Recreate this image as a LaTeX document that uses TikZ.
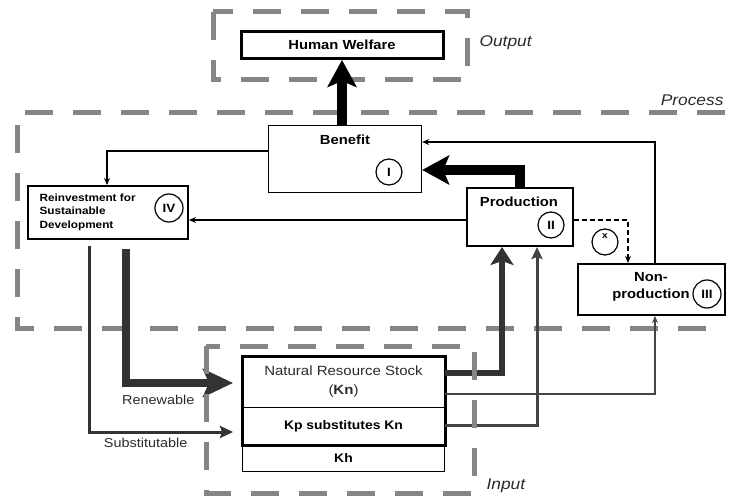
\documentclass[tikz,border=0pt]{standalone}
\usepackage{fontspec}
\setmainfont{Liberation Sans}[FakeStretch=1.12]
\usetikzlibrary{arrows.meta}
\definecolor{dashgray}{HTML}{858585}
\definecolor{darkline}{HTML}{333333}
\definecolor{midline}{HTML}{444444}
\definecolor{txtgray}{HTML}{2A2A2A}
\newcommand{\headfont}{\fontsize{13.2}{15}\selectfont\bfseries}
\newcommand{\grpfont}{\fontsize{15.5}{17}\selectfont\itshape}
\begin{document}
\begin{tikzpicture}[x=1pt,y=-1pt,
  grp/.style={draw=dashgray, line width=5pt, dash pattern=on 28pt off 20pt},
  boxnode/.style={draw=black, inner sep=0pt},
  circ/.style={circle, draw=black, line width=1.2pt, minimum size=26pt, inner sep=0pt, font=\fontsize{12}{13}\selectfont\bfseries},
  bigblack/.style={draw=black, line width=10pt, line join=miter, -{Stealth[length=27pt,width=29pt,inset=6pt]}},
  thinarr/.style={draw=black, line width=1.4pt, -{Stealth[length=7pt,width=6pt]}},
  renewarr/.style={draw=darkline, line width=8pt, line join=miter, -{Stealth[length=30pt,width=28pt,inset=6pt]}},
  substarr/.style={draw=darkline, line width=3pt, line join=miter, -{Stealth[length=13pt,width=12pt,inset=2pt]}},
  stockarr/.style={draw=darkline, line width=6pt, line join=miter, -{Stealth[length=18pt,width=23pt,inset=4pt]}},
  kparr/.style={draw=midline, line width=3pt, line join=miter, -{Stealth[length=12pt,width=11pt,inset=2pt]}},
  nparr/.style={draw=midline, line width=1.5pt, -{Stealth[length=7pt,width=6pt]}}
]
\useasboundingbox (0,0) rectangle (729,500);
% group frames (behind)
\draw[grp] (213,12) rectangle (467,80);
\draw[grp] (725,113) -- (17,113) -- (17,328) -- (722,328);
\node[anchor=west, font=\grpfont, text=txtgray] (outlbl) at (476,43) {Output};
\node[anchor=east, font=\grpfont, text=txtgray] (proclbl) at (727,100) {Process};
\node[anchor=west, font=\grpfont, text=txtgray] (inlbl) at (483,486) {Input};

% boxes
\node[boxnode, line width=3pt, minimum width=202pt, minimum height=27pt, font=\headfont] (hw) at (342,45) {Human Welfare};
\node[boxnode, line width=1.3pt, minimum width=153pt, minimum height=67pt] (ben) at (345,159) {};
\node[font=\headfont] (bentxt) at (345,140) {Benefit};
\node[circ] (c1) at (389,172) {I};

\node[boxnode, line width=2pt, minimum width=160pt, minimum height=53pt] (rei) at (108,212.5) {};
\node[anchor=west, align=left, font=\fontsize{10.5}{13.5}\selectfont\bfseries] (reitxt) at (36,212) {Reinvestment for\\Sustainable\\Development};
\node[circ, minimum size=28pt] (c4) at (169,208) {IV};

\node[boxnode, line width=2pt, minimum width=106pt, minimum height=58pt] (prod) at (520,217) {};
\node[font=\headfont] (prodtxt) at (519,202) {Production};
\node[circ] (c2) at (551,225) {II};

\node[boxnode, line width=2pt, minimum width=147pt, minimum height=51pt] (np) at (651.5,289.5) {};
\node[align=center, font=\fontsize{13.2}{17}\selectfont\bfseries] (nptxt) at (651,287) {Non-\\production};
\node[circ, minimum size=28pt] (c3) at (707,294) {III};

\node[circ] (cx) at (605,242) {};
\node[font=\fontsize{9}{10}\selectfont\bfseries] (cxtxt) at (605,236) {x};

% input stock
\node[boxnode, line width=1pt, minimum width=202pt, minimum height=50pt, align=center, font=\fontsize{13.4}{19}\selectfont, text=txtgray] (kn) at (343.5,382) {Natural Resource Stock\\(\textbf{Kn})};
\node[boxnode, line width=1pt, minimum width=202pt, minimum height=38pt, font=\fontsize{12.4}{14}\selectfont\bfseries] (kp) at (343.5,426) {Kp substitutes Kn};
\node[boxnode, line width=1pt, minimum width=202pt, minimum height=26pt, font=\fontsize{12.4}{14}\selectfont\bfseries] (kh) at (343.5,458) {Kh};
\draw[line width=3pt] (kn.north west) rectangle (kp.south east);

% connectors
\draw[bigblack] (ben.north -| hw.south) -- (hw.south);
\draw[bigblack] (prod.north) |- ([yshift=-11pt]ben.east);
\draw[thinarr] ([yshift=8pt]ben.west) -| ([xshift=-1pt]rei.north);
\coordinate (pw) at ([yshift=-3pt]prod.west);
\draw[thinarr] (pw) -- (pw -| rei.east);
\coordinate (npt) at ([xshift=3.5pt]np.north);
\draw[thinarr] (npt) |- ([yshift=17pt]ben.east);
\coordinate (pe) at ([yshift=-3pt]prod.east);
\draw[thinarr, dashed, dash pattern=on 5pt off 3pt] (pe) -| ([xshift=-23.5pt]np.north);

\coordinate (r1) at ([xshift=18pt]rei.south);
\draw[renewarr, shorten <=9pt, shorten >=9pt] (r1) |- ([yshift=-1pt]kn.west);
\coordinate (s1) at ([xshift=-19pt]rei.south);
\draw[substarr, shorten <=6pt, shorten >=9pt] (s1) |- ([yshift=-6pt]kp.west);
\draw[stockarr] ([yshift=9pt]kn.east) -| ([xshift=-18pt]prod.south);
\draw[kparr] ([yshift=1pt]kp.east) -| ([xshift=17pt]prod.south);
\draw[nparr] ([yshift=-12pt]kn.east) -| ([xshift=3.5pt]np.south);

\node[anchor=east, font=\fontsize{12.9}{14}\selectfont, text=txtgray] (renlbl) at (198,400) {Renewable};
\node[anchor=east, font=\fontsize{12.9}{14}\selectfont, text=txtgray] (sublbl) at (191,443) {Substitutable};

% input frame (on top)
\draw[grp] (206,346) rectangle (474,493);
\end{tikzpicture}
\end{document}
